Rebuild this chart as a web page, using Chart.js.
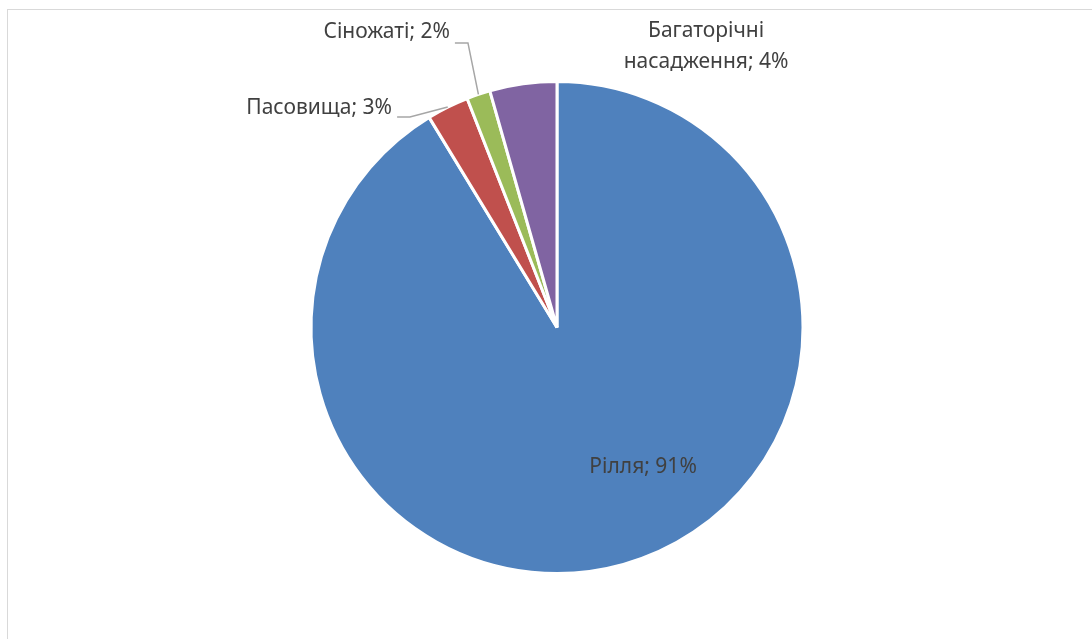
<!DOCTYPE html>
<html>
<head>
<meta charset="utf-8">
<script src="https://cdn.jsdelivr.net/npm/chart.js@4.4.0/dist/chart.umd.min.js"></script>
<style>
body { margin: 0; background: #fff; }
.wrap { position: relative; width: 1092px; height: 639px; overflow: hidden; }
.frame { position: absolute; left: 7px; top: 9px; width: 1200px; height: 700px;
         border-left: 1.5px solid #d9d9d9; border-top: 1.5px solid #d9d9d9; }
canvas { position: absolute; left: 0; top: 0; }
</style>
</head>
<body>
<div class="wrap">
    <div class="frame"></div>
    <canvas id="landChart" width="1092" height="639"></canvas>
</div>
<script>
// Структура сільськогосподарських угідь, %
const categories = ['Рілля', 'Пасовища', 'Сіножаті', 'Багаторічні насадження'];
const shares = [91.3, 2.75, 1.55, 4.4];
const sliceColors = ['#4F81BD', '#C0504D', '#9BBB59', '#8064A2'];

// Where each data label sits, in units of the pie radius from its centre
const labelSpots = [
    { lines: ['Рілля'], at: [0.35, 0.567], align: 'center' },
    { lines: ['Пасовища'], at: [-0.671, -0.892], align: 'right', leader: [[-0.650, -0.856], [-0.598, -0.856]] },
    { lines: ['Сіножаті'], at: [-0.435, -1.201], align: 'right', leader: [[-0.415, -1.157], [-0.362, -1.157]] },
    { lines: ['Багаторічні', 'насадження'], at: [0.606, -1.205], align: 'center' }
];

const dataLabels = {
    id: 'dataLabels',
    afterDraw(chart) {
        const ctx = chart.ctx;
        const arcs = chart.getDatasetMeta(0).data;
        ctx.save();
        ctx.font = '21px "Noto Sans", "Open Sans", sans-serif';
        ctx.fillStyle = '#404040';
        ctx.textBaseline = 'middle';
        arcs.forEach((arc, i) => {
            const spot = labelSpots[i];
            const r = arc.outerRadius;
            const cx = arc.x, cy = arc.y;
            if (spot.leader) {
                const mid = (arc.startAngle + arc.endAngle) / 2;
                ctx.beginPath();
                ctx.strokeStyle = '#a6a6a6';
                ctx.lineWidth = 1.5;
                ctx.moveTo(cx + spot.leader[0][0] * r, cy + spot.leader[0][1] * r);
                ctx.lineTo(cx + spot.leader[1][0] * r, cy + spot.leader[1][1] * r);
                ctx.lineTo(cx + Math.cos(mid) * r, cy + Math.sin(mid) * r);
                ctx.stroke();
            }
            const text = spot.lines.slice();
            text[text.length - 1] += '; ' + Math.round(shares[i]) + '%';
            ctx.textAlign = spot.align;
            text.forEach((line, k) => {
                ctx.fillText(line, cx + spot.at[0] * r, cy + spot.at[1] * r + k * 31);
            });
        });
        ctx.restore();
    }
};

new Chart(document.getElementById('landChart'), {
    type: 'pie',
    data: {
        labels: categories,
        datasets: [{
            data: shares,
            backgroundColor: sliceColors,
            borderColor: '#ffffff',
            borderWidth: 3
        }]
    },
    options: {
        responsive: false,
        animation: false,
        layout: { padding: { top: 80, bottom: 64, left: 22, right: 0 } },
        plugins: {
            legend: { display: false },
            tooltip: { enabled: false }
        }
    },
    plugins: [dataLabels]
});
</script>
</body>
</html>
